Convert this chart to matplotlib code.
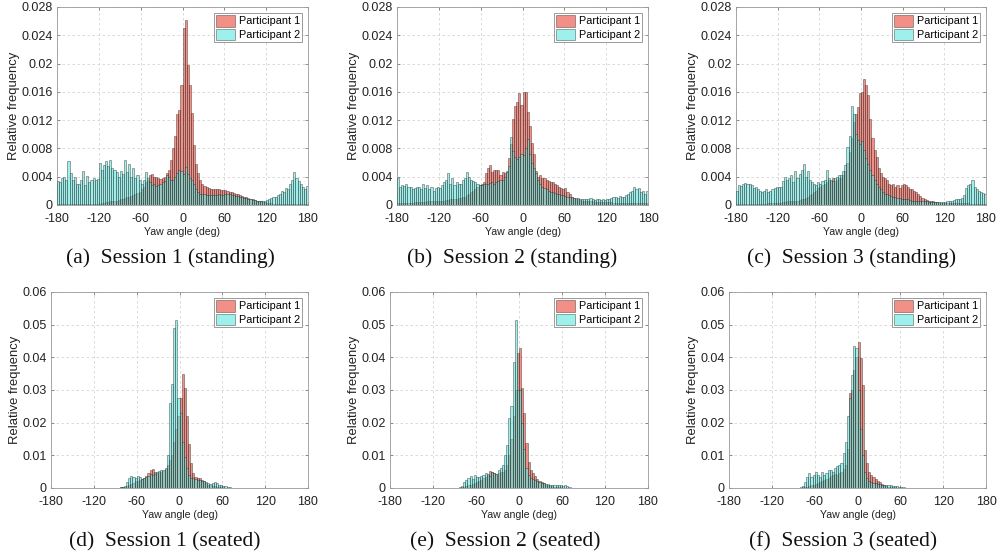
import numpy as np
import matplotlib
matplotlib.use("Agg")
import matplotlib.pyplot as plt
from matplotlib.ticker import FuncFormatter

plt.rcParams["axes.unicode_minus"] = False

# ---------------- data (relative frequency, in units of 1e-4) ----------------
# 3-degree yaw bins from -180 to 180 (120 bins); each row of 10 = 30 degrees
bin_edges = np.arange(-180, 181, 3)

s1_stand_p1 = [1,1,1,1,1,1,1,1,1,1, 1,1,1,2,1,2,2,2,2,2, 2,3,3,4,4,5,5,6,6,7,
               8,9,10,11,12,13,14,15,17,18, 22,26,32,36,42,44,40,40,38,37,
               38,40,45,50,64,80,98,128,135,170, 250,262,198,170,130,85,58,45,36,30,
               27,25,24,23,22,22,22,22,21,21, 21,20,19,18,17,16,16,14,13,12,
               11,10,9,8,7,6,5,5,4,4, 3,3,3,2,2,2,2,2,2,2, 2,2,1,1,1,1,1,1,1,1]
s1_stand_p2 = [34,33,38,40,36,62,45,35,40,30, 29,35,48,28,41,33,36,38,36,37,
               60,50,57,62,55,63,52,50,46,40, 48,44,64,46,58,40,52,38,42,36,
               30,36,46,38,32,28,30,27,28,30, 32,34,42,40,36,35,40,45,50,48,
               44,54,44,38,35,30,22,19,16,15, 15,14,14,14,14,14,14,15,14,14,
               15,16,15,14,14,13,13,12,11,10, 10,9,8,7,7,6,5,6,5,6,
               7,8,10,12,11,14,16,20,18,24, 22,30,36,46,38,34,30,26,22,27]

s2_stand_p1 = [3,3,3,3,3,3,3,3,4,4, 4,4,4,4,5,5,5,5,5,5, 5,6,6,7,7,8,8,9,9,10,
               10,11,12,14,16,18,20,22,25,28, 30,33,45,52,57,47,50,50,50,42,
               46,45,48,66,86,122,140,145,158,142, 160,160,132,112,88,72,48,40,42,38,
               38,36,34,33,32,30,28,26,24,22, 24,18,16,12,10,9,8,7,6,6,
               6,5,5,5,4,4,4,4,4,4, 4,4,4,3,3,3,3,3,3,3, 3,3,3,3,3,3,3,3,3,3]
s2_stand_p2 = [38,26,28,27,30,25,26,22,24,25, 26,22,30,24,28,22,25,20,24,26,
               24,28,32,36,45,30,38,28,32,30, 30,35,38,46,40,36,34,32,30,28,
               28,29,30,30,31,32,30,33,34,35, 36,40,46,55,96,76,68,65,68,72,
               70,80,93,72,60,52,45,36,30,26, 24,22,20,19,18,17,16,15,14,14,
               13,12,12,11,10,10,10,9,9,8, 9,8,10,8,7,8,9,7,8,7,
               8,9,10,12,11,10,13,12,11,14, 16,18,20,26,22,24,18,20,16,20]

s3_stand_p1 = [2,2,2,2,2,2,2,2,2,2, 2,2,2,2,2,3,3,3,3,3, 3,3,4,4,5,5,5,6,6,6,
               7,8,9,10,12,14,16,18,20,24, 26,28,30,32,36,34,38,34,36,38,
               38,42,48,60,75,95,118,128,138,158, 160,178,170,155,122,95,78,68,52,45,
               40,38,35,30,28,30,26,28,24,28, 30,28,26,22,22,20,18,16,13,10,
               8,7,6,5,5,4,4,3,3,3, 3,3,3,3,3,3,3,3,3,3, 3,3,2,2,2,2,2,2,2,2]
s3_stand_p2 = [20,28,27,30,31,29,30,28,24,26, 22,20,18,20,22,18,20,22,24,25,
               25,26,34,40,36,38,42,32,48,38, 44,50,58,40,48,35,32,30,28,33,
               30,34,36,50,38,36,34,38,40,42, 42,48,56,82,98,140,128,100,92,86,
               90,78,66,58,50,42,36,30,26,22, 18,16,15,14,13,12,11,10,10,9,
               9,8,8,7,6,6,6,5,5,5, 5,5,4,4,4,4,4,4,4,4,
               4,5,5,6,7,8,8,9,10,14, 24,28,30,36,26,22,20,18,17,16]

s1_seat_p1 = [0,0,0,0,0,0,0,0,0,0, 0,0,0,0,0,0,0,0,0,0, 0,0,0,0,0,0,0,1,1,1,
              1,1,2,2,3,5,8,12,16,20, 22,25,28,32,38,45,56,57,48,46,
              48,50,52,58,70,85,100,140,180,220, 275,348,305,220,135,78,45,35,30,32,
              25,22,15,10,8,6,5,4,3,2, 2,1,1,1,0,0,0,0,0,0,
              0,0,0,0,0,0,0,0,0,0, 0,0,0,0,0,0,0,0,0,0, 0,0,0,0,0,0,0,0,0,0]
s1_seat_p2 = [0,0,0,0,0,0,0,0,0,0, 0,0,0,0,0,0,0,0,0,0, 0,0,0,0,0,0,0,1,1,1,
              1,1,2,3,7,18,30,36,35,30, 36,33,28,32,34,38,42,40,44,48,
              52,55,55,62,100,260,318,490,515,275, 230,140,95,60,40,32,30,28,26,24,
              22,20,18,15,13,15,18,14,10,8, 7,6,4,2,1,1,0,0,0,0,
              0,0,0,0,0,0,0,0,0,0, 0,0,0,0,0,0,0,0,0,0, 0,0,0,0,0,0,0,0,0,0]

s2_seat_p1 = [0,0,0,0,0,0,0,0,0,0, 0,0,0,0,0,0,0,0,0,0, 0,0,0,0,0,0,0,1,1,1,
              1,1,2,3,4,6,8,10,12,15, 18,22,26,30,35,40,53,48,45,44,
              45,48,50,55,70,100,150,220,300,412, 430,305,229,137,81,56,46,36,27,22,
              18,14,10,8,6,5,4,3,2,2, 1,1,1,0,0,0,0,0,0,0,
              0,0,0,0,0,0,0,0,0,0, 0,0,0,0,0,0,0,0,0,0, 0,0,0,0,0,0,0,0,0,0]
s2_seat_p2 = [0,0,0,0,0,0,0,0,0,0, 0,0,0,0,0,0,0,0,0,0, 0,0,0,0,0,0,0,0,1,1,
              0,0,1,7,17,25,30,37,28,40, 35,33,36,40,45,42,38,48,45,42,
              55,60,70,100,132,214,250,387,513,300, 300,200,120,60,40,32,28,24,20,18,
              16,14,12,11,10,10,9,9,8,8, 7,8,6,3,1,0,0,0,0,0,
              0,0,0,0,0,0,0,0,0,0, 0,0,0,0,0,0,0,0,0,0, 0,0,0,0,0,0,0,0,0,0]

s3_seat_p1 = [0,0,0,0,0,0,0,0,0,0, 0,0,0,0,0,0,0,0,0,0, 0,0,0,0,0,0,0,0,1,1,
              0,0,1,1,2,3,4,6,8,10, 12,15,18,20,24,28,32,36,40,42,
              40,45,50,58,70,120,290,300,360,400, 448,397,315,117,76,50,40,34,28,22,
              18,12,8,5,4,3,2,2,1,1, 1,0,0,0,0,0,0,0,0,0,
              0,0,0,0,0,0,0,0,0,0, 0,0,0,0,0,0,0,0,0,0, 0,0,0,0,0,0,0,0,0,0]
s3_seat_p2 = [0,0,0,0,0,0,0,0,0,0, 0,0,0,0,0,0,0,0,0,0, 0,0,0,0,0,0,0,0,0,0,
              0,0,0,3,7,17,34,46,35,40, 48,40,35,48,40,45,55,56,50,60,
              66,70,78,107,142,220,275,346,434,430, 300,180,100,50,30,22,18,16,14,12,
              11,10,10,9,9,8,7,6,5,4, 3,2,1,0,0,0,0,0,0,0,
              0,0,0,0,0,0,0,0,0,0, 0,0,0,0,0,0,0,0,0,0, 0,0,0,0,0,0,0,0,0,0]

captions = ["(a)  Session 1 (standing)", "(b)  Session 2 (standing)", "(c)  Session 3 (standing)",
            "(d)  Session 1 (seated)", "(e)  Session 2 (seated)", "(f)  Session 3 (seated)"]
series_names = ["Participant 1", "Participant 2"]
x_ticks = [-180, -120, -60, 0, 60, 120, 180]
panels = [(s1_stand_p1, s1_stand_p2), (s2_stand_p1, s2_stand_p2), (s3_stand_p1, s3_stand_p2),
          (s1_seat_p1, s1_seat_p2), (s2_seat_p1, s2_seat_p2), (s3_seat_p1, s3_seat_p2)]
UNIT = 1e-4

# ---------------- layout ----------------
W, H = 997, 557
fig = plt.figure(figsize=(W / 100, H / 100), dpi=100)
# axes boxes in pixels: (left, top, right, bottom)
boxes = [(57, 7, 308, 205), (397, 7, 648, 205), (736, 7, 986, 205),
         (51, 292, 308, 488), (390, 292, 648, 488), (729, 292, 986, 488)]
cap_pos = [(170, 258), (512, 258), (852, 258), (165, 542), (505, 542), (843, 542)]

C1 = (0.92, 0.30, 0.24, 0.62)
C2 = (0.36, 0.90, 0.87, 0.6)
EC = (0.12, 0.12, 0.12, 0.55)
SANS = ["Liberation Sans", "DejaVu Sans"]

fmt = FuncFormatter(lambda v, _: "0" if abs(v) < 1e-12 else f"{v:g}")

for i, ((p1, p2), (l, t, r, b)) in enumerate(zip(panels, boxes)):
    ax = fig.add_axes([l / W, 1 - b / H, (r - l) / W, (b - t) / H])
    left = bin_edges[:-1]
    ax.bar(left, np.array(p1) * UNIT, width=3, align="edge", color=C1,
           edgecolor=EC, linewidth=0.5, label=series_names[0], zorder=2)
    ax.bar(left, np.array(p2) * UNIT, width=3, align="edge", color=C2,
           edgecolor=EC, linewidth=0.5, label=series_names[1], zorder=3)
    ax.set_xlim(-180, 180)
    if i < 3:
        ax.set_ylim(0, 0.028)
        ax.set_yticks(np.arange(0, 0.0281, 0.004))
    else:
        ax.set_ylim(0, 0.06)
        ax.set_yticks(np.arange(0, 0.0601, 0.01))
    ax.set_xticks(x_ticks)
    ax.yaxis.set_major_formatter(fmt)
    ax.grid(True, linestyle=(0, (3, 3)), color="#d4d4d4", linewidth=0.6)
    ax.set_axisbelow(True)
    for s in ax.spines.values():
        s.set_color("#9a9a9a")
        s.set_linewidth(0.6)
    ax.tick_params(direction="in", length=2.5, width=0.5, color="#666666",
                   labelsize=9, labelcolor="#222222", top=True, right=True)
    ax.tick_params(axis="x", pad=5.5)
    ax.tick_params(axis="y", pad=3)
    for lab in ax.get_xticklabels() + ax.get_yticklabels():
        lab.set_family(SANS)
    ax.set_xlabel("Yaw angle (deg)", fontsize=7.6, family=SANS, labelpad=1.5, color="#222222")
    ax.set_ylabel("Relative frequency", fontsize=9.4, family=SANS, labelpad=1, color="#222222")
    leg = ax.legend(loc="upper right", prop={"family": SANS, "size": 7.8}, fancybox=False,
                    edgecolor="#8a8a8a", framealpha=1, borderaxespad=0.55,
                    handlelength=1.8, handleheight=1.25, labelspacing=0.2,
                    borderpad=0.2, handletextpad=0.3)
    leg.get_frame().set_linewidth(0.6)
    cx, cy = cap_pos[i]
    fig.text(cx / W, 1 - cy / H, captions[i], ha="center", va="center",
             family=["Liberation Serif", "DejaVu Serif"], fontsize=15.5, color="#111111")

fig.savefig("out.png", dpi=100)
